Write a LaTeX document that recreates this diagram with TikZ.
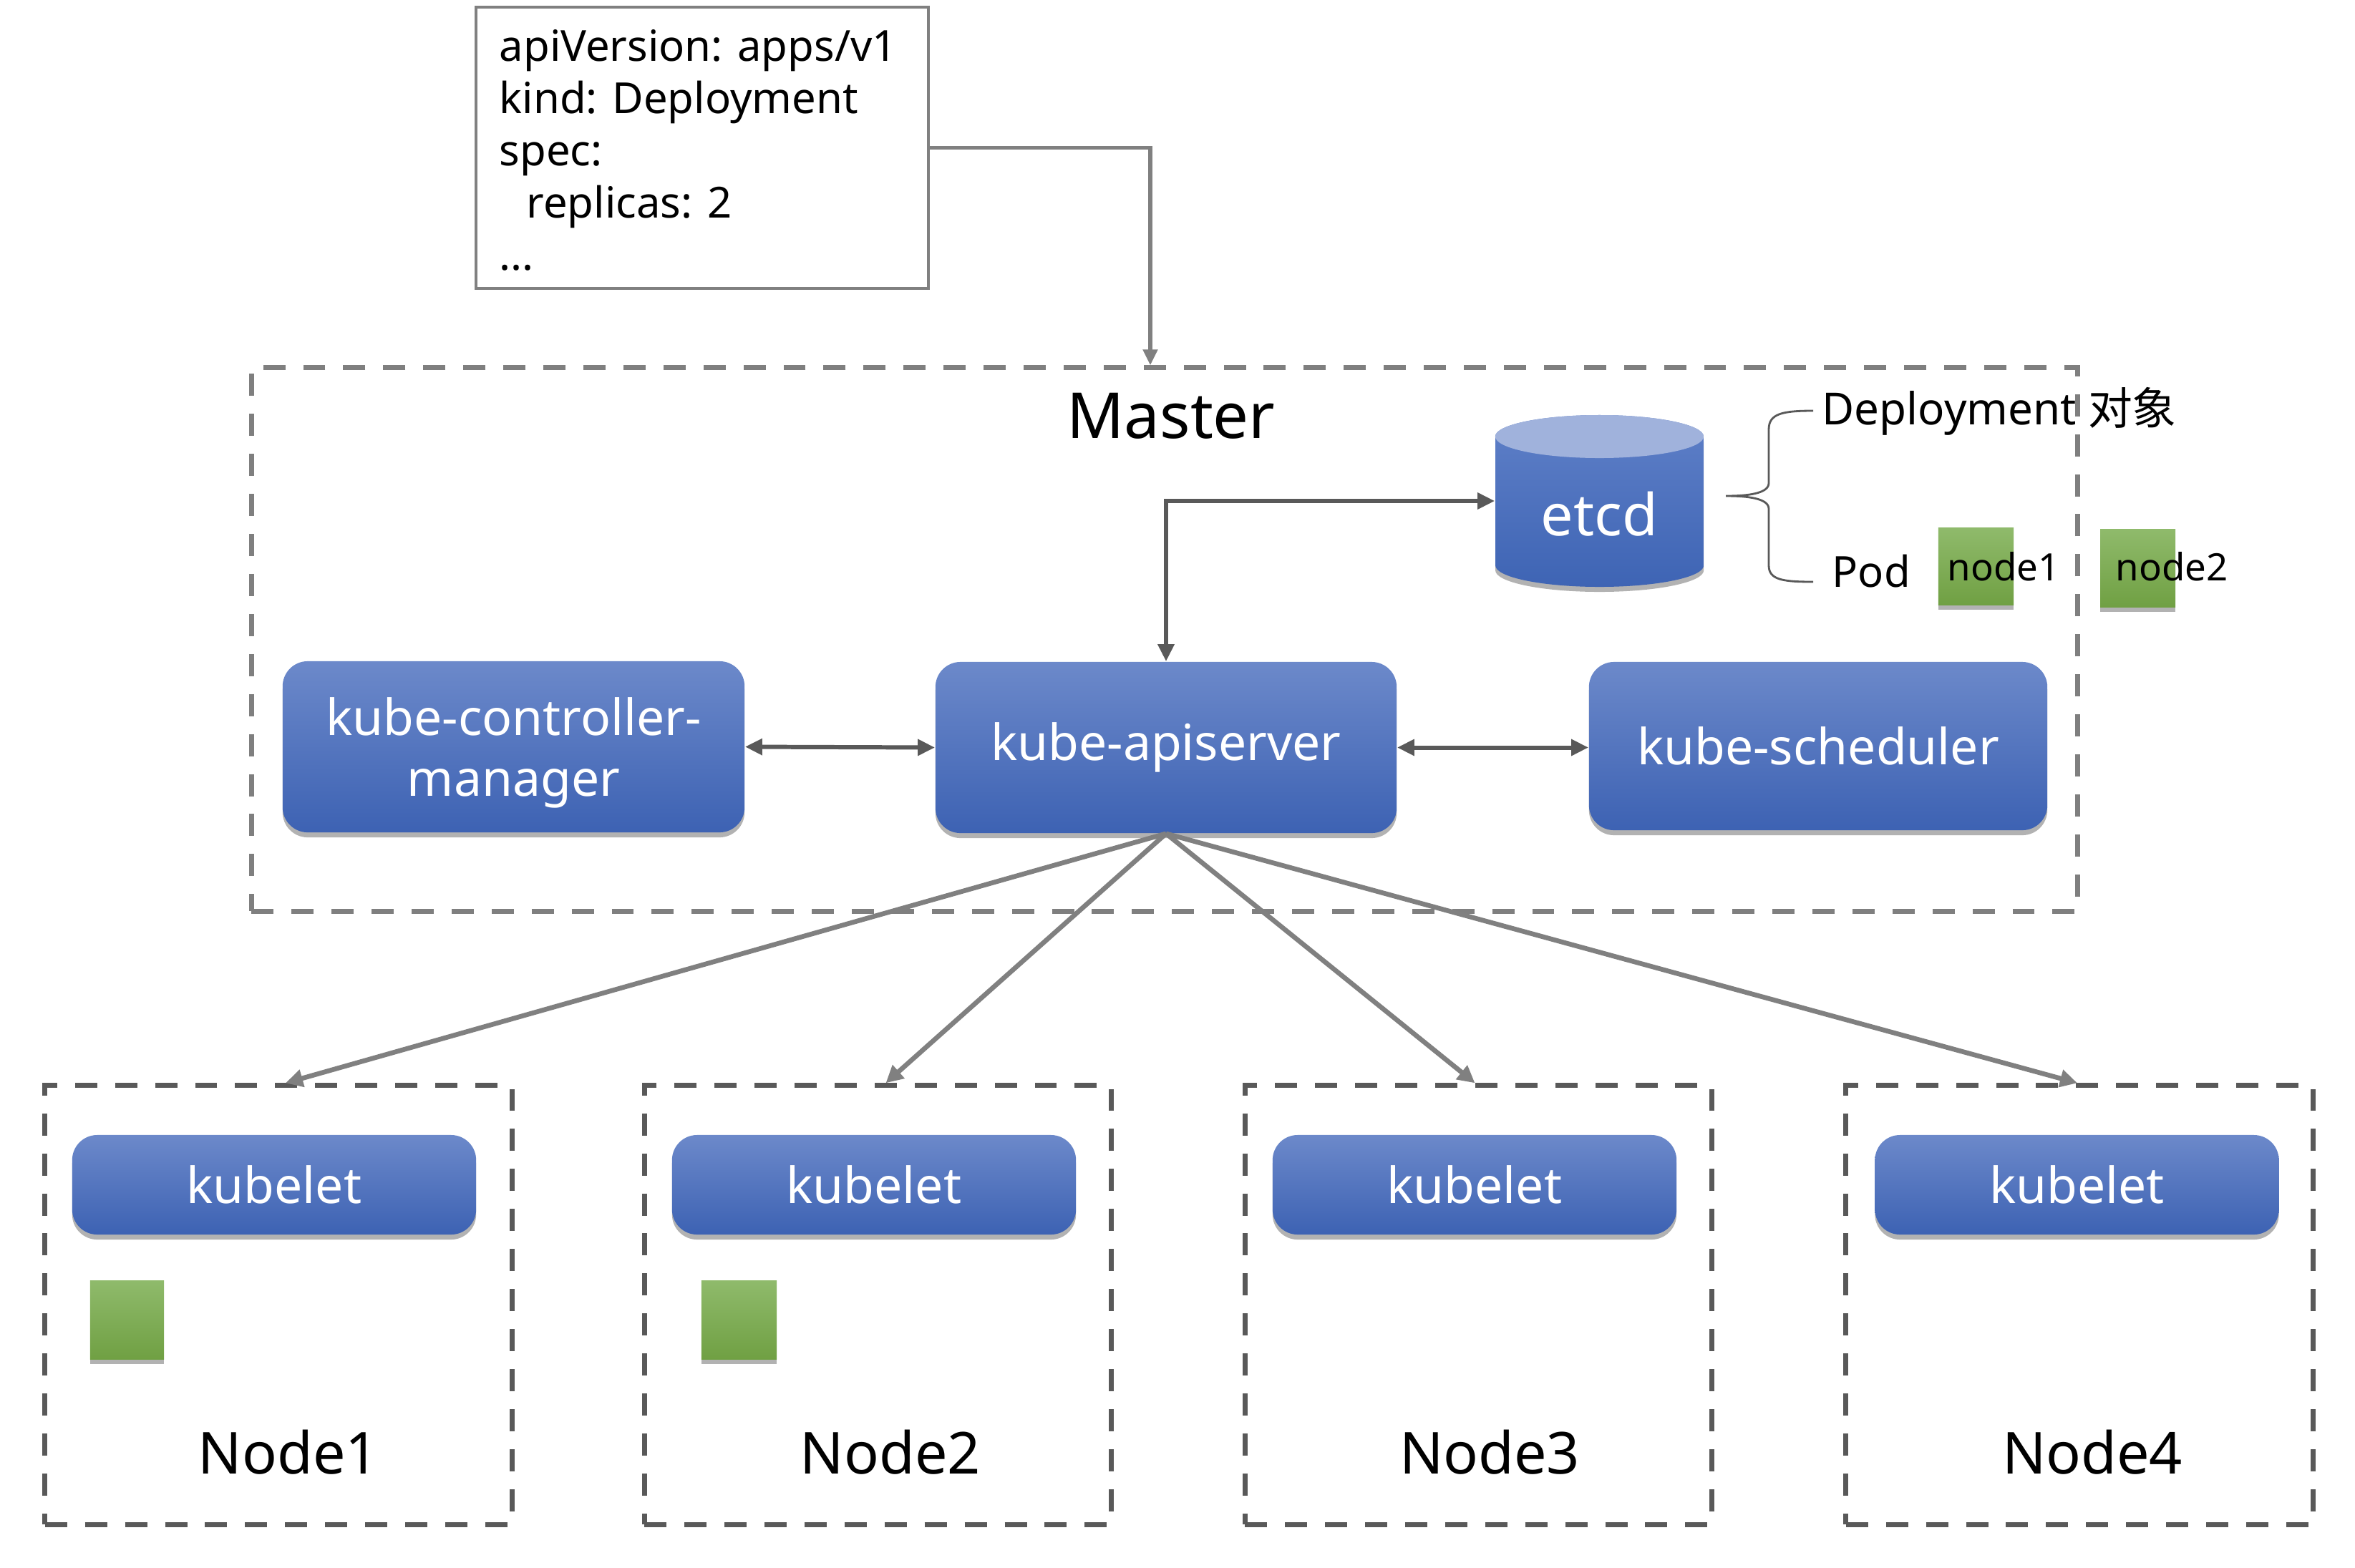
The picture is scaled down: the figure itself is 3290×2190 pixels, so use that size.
\documentclass[tikz,border=0pt]{standalone}
\usepackage{fontspec}
\setmainfont{Noto Sans}
\newfontfamily\cjk{Noto Sans CJK SC}
\usetikzlibrary{arrows.meta,shadows,calc}
\definecolor{bluetop}{HTML}{6C89CA}
\definecolor{bluebot}{HTML}{3D62B3}
\definecolor{greentop}{HTML}{8FBA6B}
\definecolor{greenbot}{HTML}{70A043}
\definecolor{cyltop}{HTML}{A0B2DC}
\definecolor{cylbodytop}{HTML}{5F80C8}
\definecolor{cylbodybot}{HTML}{3E64B4}
\definecolor{dashdark}{HTML}{595959}
\definecolor{dashlight}{HTML}{7F7F7F}
\definecolor{linegray}{HTML}{808080}
\begin{document}
\begin{tikzpicture}[x=0.01cm,y=-0.01cm,
  shad/.style={drop shadow={shadow xshift=0cm,shadow yshift=-0.07cm,opacity=0.3,fill=black}},
  bluebox/.style={shad,rounded corners=0.35cm,top color=bluetop,bottom color=bluebot,draw=none,
     text=white,inner sep=0pt,font=\fontsize{19.8}{24}\selectfont,align=center},
  podbox/.style={shad,top color=greentop,bottom color=greenbot,draw=none,inner sep=0pt},
  nodebox/.style={draw=dashdark,line width=2pt,dash pattern=on 8.8pt off 7.1pt,inner sep=0pt,
     minimum width=6.52cm,minimum height=6.13cm},
  kubeletbox/.style={bluebox,minimum width=5.64cm,minimum height=1.39cm},
  nodelabel/.style={font=\fontsize{23}{27}\selectfont,inner sep=0pt},
  darkarrow/.style={draw=dashdark,line width=1.7pt,{Triangle[length=0.24cm,width=0.22cm]}-{Triangle[length=0.24cm,width=0.22cm]}},
  fanarrow/.style={draw=linegray,line width=1.9pt,-{Triangle[length=0.24cm,width=0.24cm]}},
  legtext/.style={inner sep=0pt,anchor=west}
]
\useasboundingbox (0,0) rectangle (3290,2190);
\fill[white] (0,0) rectangle (3290,2190);

% YAML box
\node[draw=linegray,line width=1.1pt,minimum width=6.32cm,minimum height=3.93cm,inner sep=0pt] (yaml) at (981,206.5) {};
\node[anchor=west,align=left,inner sep=0pt,font=\fontsize{17}{20.8}\selectfont] (yamltxt) at (697,210)
  {apiVersion: apps/v1\\kind: Deployment\\spec:\\\hspace*{0.38cm}replicas: 2\\...};

% Master box
\node[draw=dashlight,line width=2pt,dash pattern=on 8.8pt off 7.1pt,inner sep=0pt,
      minimum width=25.5cm,minimum height=7.59cm] (master) at (1627,893.5) {};
\node[font=\fontsize{25.2}{30}\selectfont,inner sep=0pt] (mlabel) at (1636,581) {Master};

% etcd cylinder
\path[shad,top color=cylbodytop,bottom color=cylbodybot]
  (2089,610) -- (2089,790) arc[start angle=180,end angle=360,x radius=1.455cm,y radius=0.3cm]
  -- (2380,610) arc[start angle=0,end angle=180,x radius=1.455cm,y radius=0.3cm] -- cycle;
\fill[cyltop] (2234.5,610) ellipse[x radius=1.455cm,y radius=0.3cm];
\node[inner sep=0pt,minimum width=2.91cm,minimum height=2.4cm] (etcd) at (2234.5,700) {};
\node[text=white,font=\fontsize{23}{26}\selectfont,inner sep=0pt] (etcdtxt) at (2234.5,718) {etcd};

% brace
\draw[dashdark,line width=0.8pt]
  (2533,574) .. controls (2490,574) and (2471,578) .. (2471,600) -- (2471,675)
  .. controls (2471,690) and (2440,693) .. (2411,693)
  .. controls (2440,693) and (2471,696) .. (2471,711) -- (2471,790)
  .. controls (2471,810) and (2490,813) .. (2533,813);

% legend
\node[legtext,font=\fontsize{17.6}{21}\selectfont] (deptxt) at (2545,575) {Deployment {\cjk 对象}};
\node[legtext,font=\fontsize{17}{20}\selectfont] (podtxt) at (2559,798) {Pod};
\node[podbox,minimum width=1.05cm,minimum height=1.07cm] (leg1) at (2760.5,791.5) {};
\node[podbox,minimum width=1.05cm,minimum height=1.08cm] (leg2) at (2986.5,794) {};
\node[legtext,font=\fontsize{15}{18}\selectfont] (leg1txt) at (2720,792) {node1};
\node[legtext,font=\fontsize{15}{18}\selectfont] (leg2txt) at (2955,792) {node2};

% master components
\node[bluebox,minimum width=6.45cm,minimum height=2.39cm] (ctrl) at (717.5,1043.5) {};
\node[text=white,inner sep=0pt,font=\fontsize{19.8}{24}\selectfont,align=center] (ctrltxt) at (717.5,1052) {kube-controller-\\manager};
\node[bluebox,minimum width=6.44cm,minimum height=2.39cm] (api) at (1629,1044.5) {kube-apiserver};
\node[bluebox,minimum width=6.40cm,minimum height=2.35cm] (sched) at (2540,1042.5) {kube-scheduler};

% worker nodes
\node[nodebox] (n1) at (389,1823.5) {};
\node[nodebox] (n2) at (1226.5,1823.5) {};
\node[nodebox] (n3) at (2065.5,1823.5) {};
\node[nodebox] (n4) at (2905,1823.5) {};
\node[kubeletbox] (k1) at (383,1655.5) {kubelet};
\node[kubeletbox] (k2) at (1221,1655.5) {kubelet};
\node[kubeletbox] (k3) at (2060,1655.5) {kubelet};
\node[kubeletbox] (k4) at (2901.5,1655.5) {kubelet};
\node[podbox,minimum width=1.03cm,minimum height=1.09cm] (p1) at (177.5,1844.5) {};
\node[podbox,minimum width=1.05cm,minimum height=1.09cm] (p2) at (1032.5,1844.5) {};
\node[nodelabel] (l1) at (403,2029) {Node1};
\node[nodelabel] (l2) at (1244,2029) {Node2};
\node[nodelabel] (l3) at (2081,2029) {Node3};
\node[nodelabel] (l4) at (2923,2029) {Node4};

% connectors
\draw[draw=linegray,line width=1.5pt,-{Triangle[length=0.22cm,width=0.2cm]}]
  (yaml.east) -| ([xshift=-0.2cm]master.north);
\draw[darkarrow] (api.north) |- (etcd.west);
\draw[darkarrow] (ctrl.east) -- (api.west);
\draw[darkarrow] (api.east) -- (api.east -| sched.west);
\draw[fanarrow] (api.south) -- ([xshift=0.1cm]n1.north);
\draw[fanarrow] (api.south) -- ([xshift=0.11cm]n2.north);
\draw[fanarrow] (api.south) -- ([xshift=-0.05cm]n3.north);
\draw[fanarrow] (api.south) -- ([xshift=-0.03cm]n4.north);
\end{tikzpicture}
\end{document}
